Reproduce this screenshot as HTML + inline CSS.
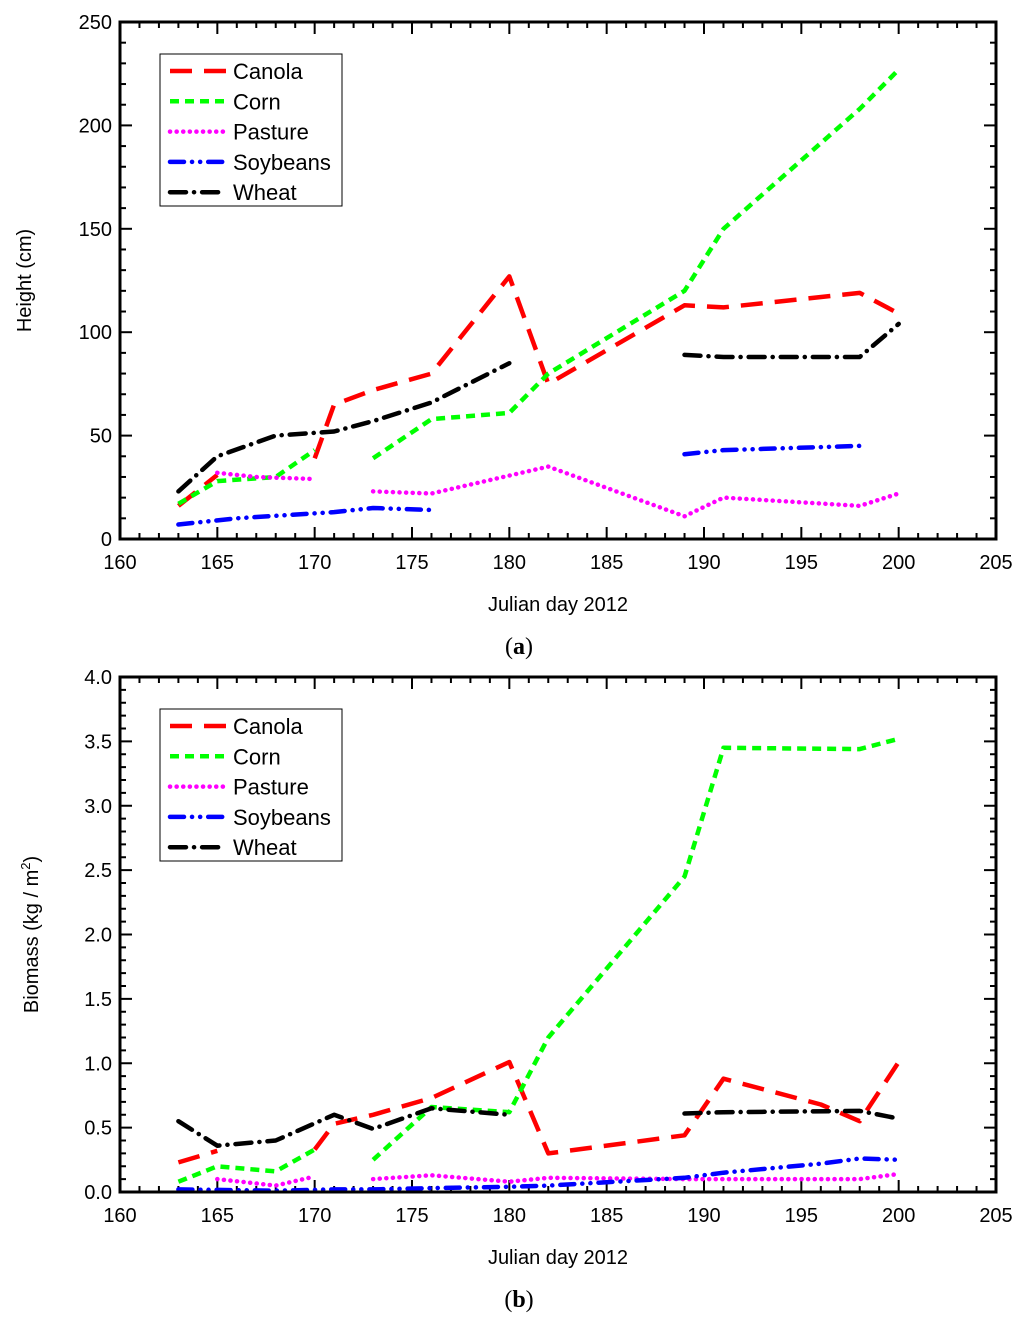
<!DOCTYPE html>
<html><head><meta charset="utf-8"><style>
body{margin:0;background:#fff;}
svg{display:block;font-family:"Liberation Sans",sans-serif;}
</style></head><body>
<svg id="s" width="1024" height="1328" viewBox="0 0 1024 1328"></svg>
<script>
const seriesNames=["Canola","Corn","Pasture","Soybeans","Wheat"];
// Height (cm); null = gap
const heightDays={
Canola:[163,165,null,170,171,173,176,180,182,189,191,198,200],
Corn:[163,165,168,170,null,173,176,180,182,189,191,198,200],
Pasture:[165,167,170,null,173,176,182,189,191,198,200],
Soybeans:[163,166,171,173,176,null,189,191,198],
Wheat:[163,165,168,171,173,176,180,null,189,191,198,200]};
const heightVals={
Canola:[16,31,null,39,65,72,80,127,75,113,112,119,109],
Corn:[17,28,30,43,null,39,58,61,80,120,150,208,227],
Pasture:[32,30,29,null,23,22,35,11,20,16,22],
Soybeans:[7,10,13,15,14,null,41,43,45],
Wheat:[23,40,50,52,57,66,85,null,89,88,88,104]};
const biomassDays={
Canola:[163,165,null,170,171,173,176,180,182,189,191,196,198,200],
Corn:[163,165,168,170,null,173,176,180,182,189,191,198,200],
Pasture:[165,168,170,null,173,176,180,182,189,191,198,200],
Soybeans:[163,168,171,173,176,180,182,189,191,196,198,200],
Wheat:[163,165,168,171,173,176,180,null,189,191,198,200]};
const biomassVals={
Canola:[0.23,0.32,null,0.33,0.53,0.6,0.73,1.01,0.3,0.44,0.88,0.68,0.55,1.01],
Corn:[0.08,0.2,0.16,0.33,null,0.25,0.66,0.62,1.2,2.45,3.45,3.44,3.52],
Pasture:[0.1,0.05,0.12,null,0.1,0.13,0.08,0.11,0.1,0.1,0.1,0.14],
Soybeans:[0.02,0.01,0.02,0.02,0.03,0.04,0.05,0.11,0.15,0.22,0.26,0.25],
Wheat:[0.55,0.36,0.4,0.6,0.49,0.65,0.6,null,0.61,0.62,0.63,0.57]};
const xTicks=[160,165,170,175,180,185,190,195,200,205];
const heightTicks=[0,50,100,150,200,250];
const biomassTicks=["0.0","0.5","1.0","1.5","2.0","2.5","3.0","3.5","4.0"];

const styles={
Canola:{c:"#ff0000",d:"22 12",cap:"butt"},
Corn:{c:"#00ff00",d:"9 6",cap:"butt"},
Pasture:{c:"#ff00ff",d:"0.1 6.5",cap:"round"},
Soybeans:{c:"#0000ff",d:"14 8 0.1 8 0.1 8",cap:"round"},
Wheat:{c:"#000000",d:"16 8 0.1 8",cap:"round"}};
const NS="http://www.w3.org/2000/svg";
const svg=document.getElementById('s');
function mk(tag,at,parent){const e=document.createElementNS(NS,tag);for(const k in at)e.setAttribute(k,at[k]);(parent||svg).appendChild(e);return e;}

function chart(cfg){
 const g=mk('g',{});
 
 
 const L=120,R=996,T=cfg.top,B=cfg.bottom;
 const xs=d=>L+(d-160)/45*(R-L);
 const ys=v=>B-v/cfg.ymax*(B-T);
 for(let d=160;d<=205;d++){
  const maj=d%5===0;const len=maj?12:6;const x=xs(d);
  mk('line',{x1:x,y1:B,x2:x,y2:B-len,stroke:'#000','stroke-width':2},g);
  mk('line',{x1:x,y1:T,x2:x,y2:T+len,stroke:'#000','stroke-width':2},g);
 }
 const nMinor=cfg.minorCount;
 for(let i=0;i<=nMinor;i++){
  const v=cfg.ymax*i/nMinor;const maj=i%cfg.minorPerMajor===0;const len=maj?12:6;const y=ys(v);
  mk('line',{x1:L,y1:y,x2:L+len,y2:y,stroke:'#000','stroke-width':2},g);
  mk('line',{x1:R,y1:y,x2:R-len,y2:y,stroke:'#000','stroke-width':2},g);
 }
 xTicks.forEach(t=>{const e=mk('text',{x:xs(t),y:B+30,'font-size':20,'text-anchor':'middle'},g);e.textContent=t;
  
  });
 cfg.yTicks.forEach(t=>{const e=mk('text',{x:L-8,y:ys(parseFloat(t))+7,'font-size':20,'text-anchor':'end'},g);e.textContent=t;
  
  });
 seriesNames.forEach(n=>{
  const ds=cfg.days[n],vs=cfg.vals[n];let segs=[],cur=[];
  for(let i=0;i<ds.length;i++){if(ds[i]===null){if(cur.length)segs.push(cur);cur=[];}else cur.push(xs(ds[i]).toFixed(1)+','+ys(vs[i]).toFixed(1));}
  if(cur.length)segs.push(cur);
  const st=styles[n];
  segs.forEach(s=>{const p=mk('polyline',{points:s.join(' '),fill:'none',stroke:st.c,'stroke-width':4.5,'stroke-dasharray':st.d,'stroke-linecap':st.cap,'stroke-linejoin':'round'},g);
   
   });
 });
 mk('rect',{x:L,y:T,width:R-L,height:B-T,fill:'none',stroke:'#000','stroke-width':3},g);
 const lg=mk('g',{},g);
 
 
 mk('rect',{x:160,y:T+32,width:182,height:152,fill:'#fff',stroke:'#000','stroke-width':1},lg);
 seriesNames.forEach((n,i)=>{const y=T+49+i*30.3;const st=styles[n];
  const l=mk('line',{x1:170,y1:y,x2:226,y2:y,stroke:st.c,'stroke-width':4.5,'stroke-dasharray':st.d,'stroke-linecap':st.cap},lg);
  
  
  const t=mk('text',{x:233,y:y+8,'font-size':22},lg);t.textContent=n;
  
  });
 const xt=mk('text',{x:558,y:B+72,'font-size':20,'text-anchor':'middle'},g);xt.textContent='Julian day 2012';
 
 
 const yt=mk('text',{x:0,y:0,'font-size':20,'text-anchor':'middle',transform:`translate(${cfg.ytX},${(T+B)/2}) rotate(-90)`},g);yt.innerHTML=cfg.ytitle;
 
 
 const pl=mk('text',{x:519,y:B+115,'font-size':24,'text-anchor':'middle','font-family':'Liberation Serif, serif'},g);pl.innerHTML=cfg.panel;
 
 
}
chart({name:'height-chart',top:22,bottom:539,ymax:250,minorCount:25,minorPerMajor:5,yTicks:heightTicks,days:heightDays,vals:heightVals,ytitle:'Height (cm)',ytX:31,panel:'(<tspan font-weight="bold">a</tspan>)'});
chart({name:'biomass-chart',top:677,bottom:1192,ymax:4,minorCount:40,minorPerMajor:5,yTicks:biomassTicks,days:biomassDays,vals:biomassVals,ytitle:'Biomass (kg / m<tspan font-size="13" dy="-8">2</tspan><tspan dy="8">)</tspan>',ytX:38,panel:'(<tspan font-weight="bold">b</tspan>)'});
</script>
</body></html>
